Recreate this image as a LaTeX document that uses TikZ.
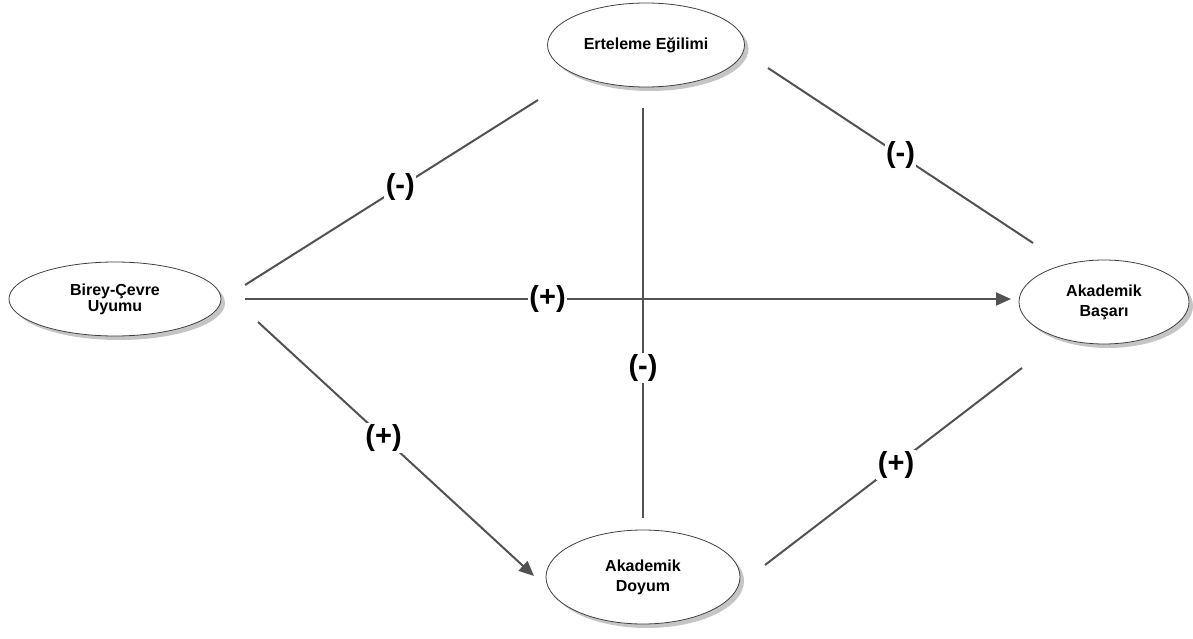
\documentclass[tikz,border=0pt]{standalone}
\usepackage{fontspec}
\setmainfont{Liberation Sans}
\usetikzlibrary{shapes.geometric,arrows.meta,shadows}
\begin{document}
\begin{tikzpicture}[x=1pt,y=-1pt,
  var/.style={ellipse, draw=black!75, line width=0.8pt, fill=white, inner sep=0pt,
    align=center, font=\bfseries\fontsize{16}{16}\selectfont,
    drop shadow={shadow xshift=4pt, shadow yshift=-4pt, fill=black!45}},
  conn/.style={draw=black!68, line width=2pt},
  arr/.style={conn, -{Triangle[length=15pt,width=13pt]}},
  lab/.style={fill=white, inner sep=1.5pt, font=\bfseries\fontsize{29}{29}\selectfont, text=black}]
\useasboundingbox (0,0) rectangle (1193,639);
\node[var, minimum width=212pt, minimum height=74pt] (bc) at (115,299) {Birey-Çevre\\Uyumu};
\node[var, minimum width=197pt, minimum height=84pt, font=\bfseries\fontsize{16}{20}\selectfont] (ee) at (646,45) {Erteleme Eğilimi};
\node[var, minimum width=170pt, minimum height=84pt, font=\bfseries\fontsize{16}{20}\selectfont] (ab) at (1104,302) {Akademik\\Başarı};
\node[var, minimum width=194pt, minimum height=94pt, font=\bfseries\fontsize{16}{20}\selectfont] (ad) at (643,577) {Akademik\\Doyum};
% connectors
\draw[conn] ([shift={(130,-14)}]bc.center) -- ([shift={(-108,55)}]ee.center) node[lab, pos=0.53] {(-)};
\draw[conn] ([shift={(122,23)}]ee.center) -- ([shift={(-71,-59)}]ab.center) node[lab, pos=0.5] {(-)};
\draw[arr] ([shift={(130,0)}]bc.center) -- ([shift={(-93,-3)}]ab.center) node[lab, pos=0.395] {(+)};
\draw[arr] ([shift={(143,23)}]bc.center) -- ([shift={(-109,-1)}]ad.center) node[lab, pos=0.455] {(+)};
\draw[conn] ([shift={(122,-12)}]ad.center) -- ([shift={(-82,66)}]ab.center) node[lab, pos=0.51] {(+)};
\draw[conn] ([shift={(-3,63)}]ee.center) -- ([shift={(0,-59)}]ad.center) node[lab, pos=0.634] {(-)};
\end{tikzpicture}
\end{document}
